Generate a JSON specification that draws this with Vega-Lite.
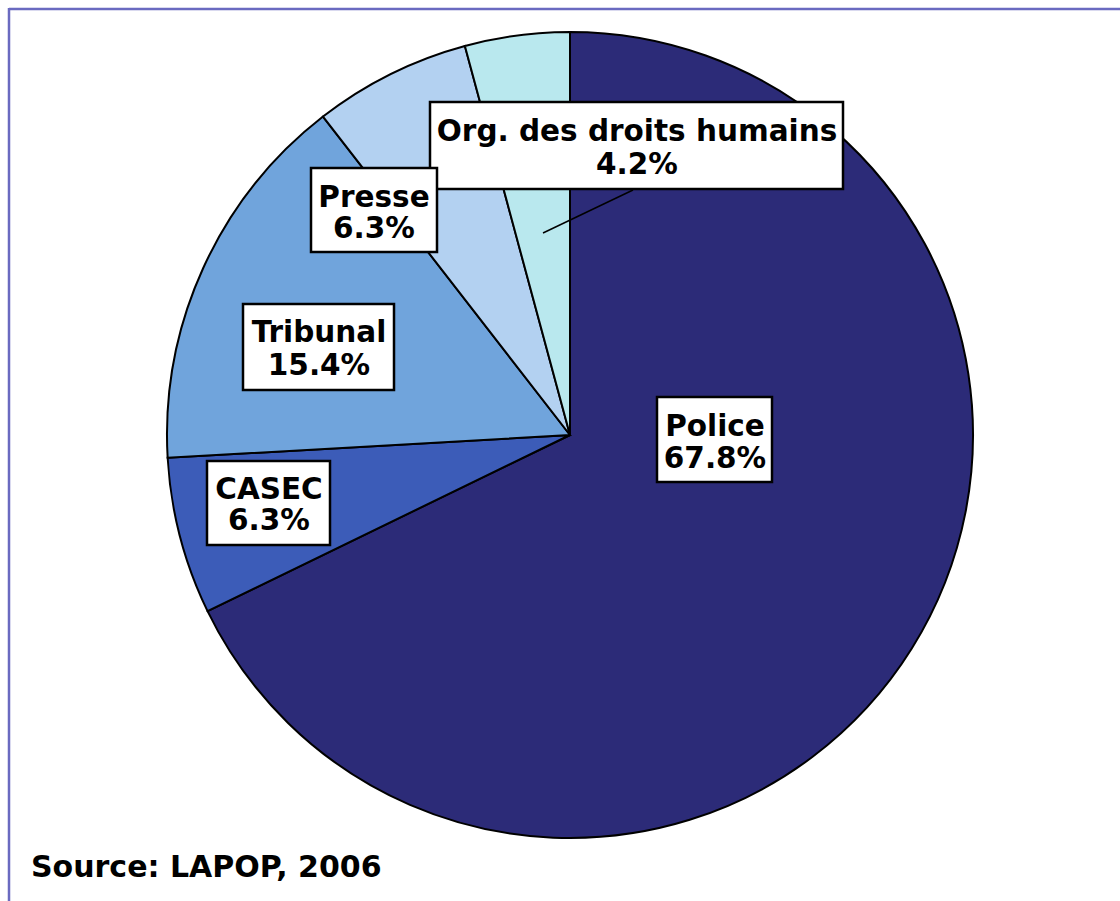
{
  "$schema": "https://vega.github.io/schema/vega-lite/v6.json",
  "width": 1120,
  "height": 901,
  "padding": 0,
  "autosize": {"type": "none"},
  "background": "white",
  "config": {
    "view": {"stroke": null},
    "axis": {"disable": true},
    "legend": {"disable": true},
    "text": {"font": "DejaVu Sans", "fontWeight": "bold", "fontSize": 29.5, "fill": "black"}
  },
  "data": {
    "values": [
      {"cat": "Police", "pct": 0.678},
      {"cat": "CASEC", "pct": 0.063},
      {"cat": "Tribunal", "pct": 0.154},
      {"cat": "Presse", "pct": 0.063},
      {"cat": "Org. des droits humains", "pct": 0.042}
    ]
  },
  "transform": [{"window": [{"op": "row_number", "as": "rank"}]}],
  "layer": [
    {
      "mark": {"type": "arc", "outerRadius": 403, "stroke": "black", "strokeWidth": 2},
      "encoding": {
        "x": {"datum": 0, "type": "quantitative", "scale": {"domain": [-570, 550], "nice": false, "zero": false}, "axis": null},
        "y": {"datum": 0, "type": "quantitative", "scale": {"domain": [-466, 435], "nice": false, "zero": false}, "axis": null},
        "theta": {"field": "pct", "type": "quantitative", "stack": true},
        "order": {"field": "rank", "type": "quantitative"},
        "color": {
          "field": "cat",
          "type": "nominal",
          "scale": {
            "domain": ["Police", "CASEC", "Tribunal", "Presse", "Org. des droits humains"],
            "range": ["#2c2b78", "#3c5cb8", "#70a4dc", "#b3d1f1", "#b9e8ee"]
          },
          "legend": null
        }
      }
    },
    {
      "transform": [{"filter": "datum.rank === 1"}],
      "layer": [
        {
          "mark": {"type": "rule", "stroke": "#6a6ac0", "strokeWidth": 2.5},
          "encoding": {"x": {"datum": -561}, "x2": {"datum": 550}, "y": {"datum": 426}, "y2": {"datum": 426}}
        },
        {
          "mark": {"type": "rule", "stroke": "#6a6ac0", "strokeWidth": 2.5},
          "encoding": {"x": {"datum": -561}, "x2": {"datum": -561}, "y": {"datum": 427}, "y2": {"datum": -466}}
        },
        {
          "mark": {"type": "text", "text": "Source: LAPOP, 2006", "align": "left", "baseline": "alphabetic", "fontSize": 30},
          "encoding": {"x": {"datum": -539}, "y": {"datum": -442}}
        }
      ]
    },
    {
      "transform": [{"filter": "datum.cat === 'Org. des droits humains'"}],
      "layer": [
        {
          "mark": {"type": "rule", "stroke": "black", "strokeWidth": 1.5},
          "encoding": {"x": {"datum": -27}, "x2": {"datum": 63}, "y": {"datum": 202}, "y2": {"datum": 245}}
        },
        {
          "mark": {"type": "rect", "fill": "white", "stroke": "black", "strokeWidth": 2.5},
          "encoding": {"x": {"datum": -140}, "x2": {"datum": 273}, "y": {"datum": 333}, "y2": {"datum": 246}}
        },
        {
          "mark": {"type": "text", "align": "center", "baseline": "alphabetic"},
          "encoding": {"x": {"datum": 67}, "y": {"datum": 294}, "text": {"field": "cat", "type": "nominal"}}
        },
        {
          "mark": {"type": "text", "align": "center", "baseline": "alphabetic"},
          "encoding": {"x": {"datum": 67}, "y": {"datum": 261}, "text": {"field": "pct", "type": "quantitative", "format": ".1%"}}
        }
      ]
    },
    {
      "transform": [{"filter": "datum.cat === 'Presse'"}],
      "layer": [
        {
          "mark": {"type": "rect", "fill": "white", "stroke": "black", "strokeWidth": 2.5},
          "encoding": {"x": {"datum": -259}, "x2": {"datum": -133}, "y": {"datum": 267}, "y2": {"datum": 183}}
        },
        {
          "mark": {"type": "text", "align": "center", "baseline": "alphabetic"},
          "encoding": {"x": {"datum": -196}, "y": {"datum": 228}, "text": {"field": "cat", "type": "nominal"}}
        },
        {
          "mark": {"type": "text", "align": "center", "baseline": "alphabetic"},
          "encoding": {"x": {"datum": -196}, "y": {"datum": 197}, "text": {"field": "pct", "type": "quantitative", "format": ".1%"}}
        }
      ]
    },
    {
      "transform": [{"filter": "datum.cat === 'Tribunal'"}],
      "layer": [
        {
          "mark": {"type": "rect", "fill": "white", "stroke": "black", "strokeWidth": 2.5},
          "encoding": {"x": {"datum": -327}, "x2": {"datum": -176}, "y": {"datum": 131}, "y2": {"datum": 45}}
        },
        {
          "mark": {"type": "text", "align": "center", "baseline": "alphabetic"},
          "encoding": {"x": {"datum": -251}, "y": {"datum": 93}, "text": {"field": "cat", "type": "nominal"}}
        },
        {
          "mark": {"type": "text", "align": "center", "baseline": "alphabetic"},
          "encoding": {"x": {"datum": -251}, "y": {"datum": 60}, "text": {"field": "pct", "type": "quantitative", "format": ".1%"}}
        }
      ]
    },
    {
      "transform": [{"filter": "datum.cat === 'CASEC'"}],
      "layer": [
        {
          "mark": {"type": "rect", "fill": "white", "stroke": "black", "strokeWidth": 2.5},
          "encoding": {"x": {"datum": -363}, "x2": {"datum": -240}, "y": {"datum": -26}, "y2": {"datum": -110}}
        },
        {
          "mark": {"type": "text", "align": "center", "baseline": "alphabetic"},
          "encoding": {"x": {"datum": -301}, "y": {"datum": -64}, "text": {"field": "cat", "type": "nominal"}}
        },
        {
          "mark": {"type": "text", "align": "center", "baseline": "alphabetic"},
          "encoding": {"x": {"datum": -301}, "y": {"datum": -95}, "text": {"field": "pct", "type": "quantitative", "format": ".1%"}}
        }
      ]
    },
    {
      "transform": [{"filter": "datum.cat === 'Police'"}],
      "layer": [
        {
          "mark": {"type": "rect", "fill": "white", "stroke": "black", "strokeWidth": 2.5},
          "encoding": {"x": {"datum": 87}, "x2": {"datum": 202}, "y": {"datum": 38}, "y2": {"datum": -47}}
        },
        {
          "mark": {"type": "text", "align": "center", "baseline": "alphabetic"},
          "encoding": {"x": {"datum": 145}, "y": {"datum": -1}, "text": {"field": "cat", "type": "nominal"}}
        },
        {
          "mark": {"type": "text", "align": "center", "baseline": "alphabetic"},
          "encoding": {"x": {"datum": 145}, "y": {"datum": -33}, "text": {"field": "pct", "type": "quantitative", "format": ".1%"}}
        }
      ]
    }
  ]
}
